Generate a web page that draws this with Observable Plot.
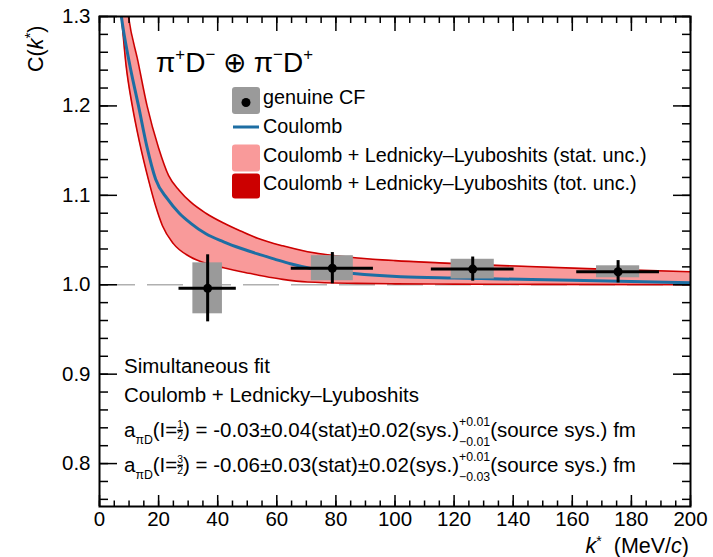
<!DOCTYPE html>
<html><head><meta charset="utf-8">
<script src="https://cdn.jsdelivr.net/npm/d3@7"></script>
<script src="https://cdn.jsdelivr.net/npm/@observablehq/plot@0.6"></script>
<style>body{margin:0;background:#fff} svg{display:block}</style>
</head><body><div id="chart"></div>
<script>
// ---- data ----
// Coulomb curve
const coulombK = [6.0, 7.4, 10, 13.2, 16, 19, 23, 27, 30.8, 36, 42, 48, 53.5, 59, 64.6, 72, 80, 86, 102, 120, 132, 160, 200];
const coulombC = [1.34, 1.30, 1.25, 1.20, 1.155, 1.118, 1.096, 1.080, 1.069, 1.057, 1.048, 1.0405, 1.0345, 1.029, 1.0235, 1.018, 1.0145, 1.0125, 1.009, 1.0075, 1.0067, 1.005, 1.0022];
// Coulomb + Lednicky-Lyuboshits band, upper edge
const upperK = [8.5, 9.8, 13, 16.1, 20, 23.4, 27, 30.8, 36, 42, 48, 53.5, 62, 70.4, 80, 87.3, 100, 115, 132, 165, 200];
const upperC = [1.335, 1.30, 1.25, 1.20, 1.153, 1.122, 1.1055, 1.0926, 1.080, 1.069, 1.0598, 1.052, 1.0435, 1.037, 1.0325, 1.030, 1.027, 1.0245, 1.022, 1.018, 1.0145];
// lower edge
const lowerK = [6.0, 7.4, 9, 11.1, 13.5, 16.6, 19, 21.3, 25, 30.8, 36, 42, 48, 53.5, 62, 70.4, 87, 100, 120, 150, 200];
const lowerC = [1.34, 1.30, 1.245, 1.20, 1.16, 1.117, 1.088, 1.066, 1.046, 1.031, 1.024, 1.019, 1.0145, 1.011, 1.006, 1.003, 1.0015, 1.001, 1.0007, 1.0004, 1.0];

// genuine CF points
const kPoints  = [36.6, 78.8, 126.3, 175.5];
const cfPoints = [0.996, 1.0185, 1.0175, 1.0145];
const statErr  = [0.0375, 0.0175, 0.0135, 0.0125];
const binHalf  = [9.7, 13.9, 14, 14];
const sysErr   = [0.0285, 0.014, 0.011, 0.0067];
const sysHalfW = [5, 7.1, 7.3, 7.3];

const xMajor = [0, 20, 40, 60, 80, 100, 120, 140, 160, 180, 200];
const xMinor = d3.range(0, 201, 5);
const yMajor = [0.8, 0.9, 1.0, 1.1, 1.2, 1.3];
const yMinor = d3.range(38, 66).map(i => +(i * 0.02).toFixed(2));

const legendLabels = ["genuine CF", "Coulomb", "Coulomb + Lednicky\u2013Lyuboshits (stat. unc.)", "Coulomb + Lednicky\u2013Lyuboshits (tot. unc.)"];

// ---- layout ----
const W = 713, H = 557, mL = 99, mR = 23, mT = 16, mB = 51;
const fw = W - mL - mR, fh = H - mT - mB;
const FONT = "'Liberation Sans', Arial, Helvetica, sans-serif";

const coul = coulombK.map((k, i) => ({k, c: coulombC[i]}));
const up = upperK.map((k, i) => ({k, c: upperC[i]}));
const lo = lowerK.map((k, i) => ({k, c: lowerC[i]}));
const band = upperK.map((k, i) => ({ku: k, cu: upperC[i], kl: lowerK[i], cl: lowerC[i]}));
const pts = kPoints.map((k, i) => ({k, y: cfPoints[i], e: statErr[i], bw: binHalf[i], s: sysErr[i], sw: sysHalfW[i]}));

const BLUE = "#1d6ea3", PINK = "#f99a9a", RED = "#cc0000", GREY = "#9a9a9a";

const svg = Plot.plot({
  width: W, height: H,
  marginLeft: mL, marginRight: mR, marginTop: mT, marginBottom: mB,
  x: {domain: [0, 200]},
  y: {domain: [0.752, 1.3]},
  style: {fontFamily: FONT, fontSize: "20.5px", background: "white", color: "black", overflow: "visible"},
  marks: [
    Plot.ruleY([1], {stroke: "#b0b0b0", strokeWidth: 1.5, strokeDasharray: "36,12"}),
    Plot.area(band, {x1: "kl", y1: "cl", x2: "ku", y2: "cu", fill: PINK, clip: true, curve: "monotone-x"}),
    Plot.line(up, {x: "k", y: "c", stroke: RED, strokeWidth: 1.6, clip: true, curve: "monotone-x"}),
    Plot.line(lo, {x: "k", y: "c", stroke: RED, strokeWidth: 1.6, clip: true, curve: "monotone-x"}),
    Plot.line(coul, {x: "k", y: "c", stroke: BLUE, strokeWidth: 3, clip: true, curve: "monotone-x"}),
    Plot.rect(pts, {x1: d => d.k - d.sw, x2: d => d.k + d.sw, y1: d => d.y - d.s, y2: d => d.y + d.s, fill: GREY}),
    Plot.ruleY(pts, {y: "y", x1: d => d.k - d.bw, x2: d => d.k + d.bw, stroke: "black", strokeWidth: 3}),
    Plot.ruleX(pts, {x: "k", y1: d => d.y - d.e, y2: d => d.y + d.e, stroke: "black", strokeWidth: 3}),
    Plot.dot(pts, {x: "k", y: "y", r: 4.5, fill: "black"}),
    // frame ticks (inside, ROOT style)
    Plot.tickY(yMajor, {y: d => d, insetRight: fw - 18, stroke: "black", strokeWidth: 1.5}),
    Plot.tickY(yMinor, {y: d => d, insetRight: fw - 9, stroke: "black", strokeWidth: 1.5}),
    Plot.tickY(yMajor, {y: d => d, insetLeft: fw - 17, stroke: "black", strokeWidth: 1.5}),
    Plot.tickY(yMinor, {y: d => d, insetLeft: fw - 8, stroke: "black", strokeWidth: 1.5}),
    Plot.tickX(xMajor, {x: d => d, insetTop: fh - 11, stroke: "black", strokeWidth: 1.5}),
    Plot.tickX(xMinor, {x: d => d, insetTop: fh - 5.5, stroke: "black", strokeWidth: 1.5}),
    Plot.tickX(xMajor, {x: d => d, insetBottom: fh - 15, stroke: "black", strokeWidth: 1.5}),
    Plot.tickX(xMinor, {x: d => d, insetBottom: fh - 7, stroke: "black", strokeWidth: 1.5}),
    Plot.frame({stroke: "black", strokeWidth: 2}),
    Plot.axisX({ticks: xMajor, tickSize: 0, tickPadding: 5, label: null, tickFormat: d => String(d)}),
    Plot.axisY({ticks: yMajor, tickSize: 0, tickPadding: 9, label: null, tickFormat: d3.format(".1f")})
  ]
});
document.getElementById("chart").appendChild(svg);

// ---- rich text helper ----
const root = d3.select(svg).append("g").attr("font-family", FONT).attr("fill", "black").attr("text-anchor", "start");
function rich(parent, x, y, parts, size) {
  let cx = x;
  for (const p of parts) {
    if (p.stack) {
      const s = (p.size || 0.62) * size;
      const a = parent.append("text").attr("x", cx).attr("y", y + p.up * size).attr("font-size", s).text(p.stack[0]);
      const b = parent.append("text").attr("x", cx).attr("y", y + p.down * size).attr("font-size", s).text(p.stack[1]);
      const w0 = Math.max(a.node().getComputedTextLength(), b.node().getComputedTextLength());
      if (p.bar) parent.append("rect").attr("x", cx).attr("y", y - 0.36 * size).attr("width", w0).attr("height", 1.6);
      cx += w0 + (p.pad || 0);
    } else {
      const s = (p.size || 1) * size;
      const t = parent.append("text").attr("x", cx).attr("y", y + (p.dy || 0) * size)
        .attr("font-size", s).attr("font-style", p.italic ? "italic" : null)
        .attr("xml:space", "preserve").style("white-space", "pre").text(p.t);
      cx += t.node().getComputedTextLength();
    }
  }
  return cx - x;
}

// title
rich(root, 156, 72, [
  {t: "\u03c0"}, {t: "+", size: 0.6, dy: -0.42}, {t: "D"}, {t: "\u2212", size: 0.6, dy: -0.42},
  {t: " \u2295 "},
  {t: "\u03c0"}, {t: "\u2212", size: 0.6, dy: -0.42}, {t: "D"}, {t: "+", size: 0.6, dy: -0.42}
], 28);

// legend
const LX = 232, LW = 28, LTX = 263, LFS = 19.8;
const rowsY = [100.5, 127, 158, 186];
const base = [104, 133, 162, 190];
const lg = root.append("g");
lg.append("rect").attr("x", LX).attr("y", rowsY[0] - 13.5).attr("width", LW).attr("height", 27).attr("rx", 3).attr("fill", GREY);
lg.append("circle").attr("cx", LX + LW / 2).attr("cy", rowsY[0] + 2).attr("r", 4.5).attr("fill", "black");
lg.append("rect").attr("x", LX + 1).attr("y", rowsY[1] - 1.5).attr("width", LW - 2).attr("height", 3).attr("fill", BLUE);
lg.append("rect").attr("x", LX).attr("y", rowsY[2] - 13.5).attr("width", LW).attr("height", 27).attr("rx", 3).attr("fill", PINK);
lg.append("rect").attr("x", LX).attr("y", rowsY[3] - 12.5).attr("width", LW).attr("height", 25).attr("rx", 3).attr("fill", RED);
legendLabels.forEach((l, i) => rich(lg, LTX, base[i], [{t: l}], LFS));

// bottom annotation
const BFS = 20.5, BX = 124;
rich(root, BX, 373, [{t: "Simultaneous fit"}], BFS);
rich(root, BX, 402, [{t: "Coulomb + Lednicky\u2013Lyuboshits"}], BFS);
function fitLine(y, num, den, val, stat, upT, downT) {
  rich(root, BX, y, [
    {t: "a"}, {t: "\u03c0D", size: 0.6, dy: 0.32}, {t: "(I="},
    {stack: [num, den], up: -0.42, down: 0.12, size: 0.5, bar: true},
    {t: ") = " + val + "\u00b1" + stat + "(stat)\u00b10.02(sys.)"},
    {stack: [upT, downT], up: -0.52, down: 0.42, size: 0.6},
    {t: "(source sys.) fm"}
  ], BFS);
}
fitLine(437, "1", "2", "-0.03", "0.04", "+0.01", "\u22120.01");
fitLine(472, "3", "2", "-0.06", "0.03", "+0.01", "\u22120.03");

// axis titles
const yt = root.append("g").attr("transform", "translate(43,72) rotate(-90)");
rich(yt, 0, 0, [{t: "C("}, {t: "k", italic: true}, {t: "*", size: 0.7, dy: -0.35}, {t: ")"}], 21.5);
const xt = root.append("g");
const wx = rich(xt, 0, 552.5, [{t: "k", italic: true}, {t: "*", size: 0.65, dy: -0.3}, {t: "  (MeV/"}, {t: "c", italic: true}, {t: ")"}], 21.5);
xt.attr("transform", `translate(${689 - wx},0)`);
</script></body></html>
